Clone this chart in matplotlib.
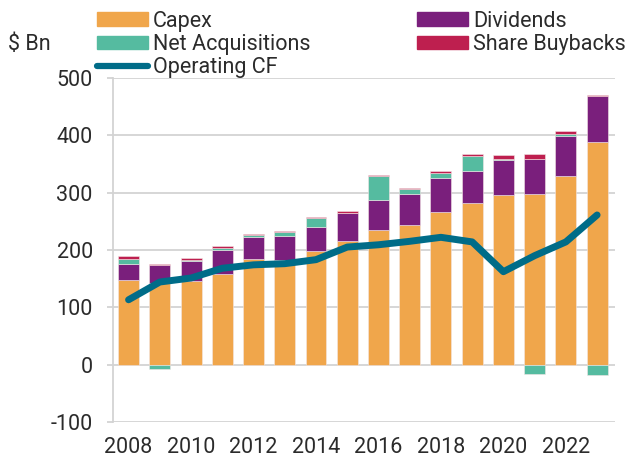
import numpy as np
import matplotlib.pyplot as plt
from matplotlib.lines import Line2D
from matplotlib.patches import Patch

plt.rcParams['font.family'] = ['Roboto', 'DejaVu Sans']
plt.rcParams['axes.unicode_minus'] = False

years = np.arange(2008, 2024)
capex = np.array([147, 143, 145, 158, 184, 183, 198, 216, 234, 244, 266, 282, 296, 297, 329, 388])
dividends = np.array([29, 30, 35, 41, 39, 42, 42, 48, 53, 54, 60, 56, 61, 62, 69, 80])
net_acq = np.array([8.5, -8, 2, 3.5, 3, 6, 16, 1, 42, 9, 8, 26, 1, -16, 3.5, -19])
buybacks = np.array([4.5, 3, 3.5, 3.5, 2, 2.5, 1.5, 3, 2, 1, 3.5, 3.5, 7, 8, 6, 2.5])
operating_cf = np.array([113, 144, 151, 168, 174, 176, 183, 205, 209, 215, 222, 214, 162, 190, 214, 261])

c_capex = '#F0A64B'
c_div = '#7A1F7C'
c_acq = '#55BBA0'
c_buy = '#BE1F4F'
c_cf = '#006C88'
txt = '#2b2b2b'
grid_c = '#d3d3d3'
fs = 15.5

fig = plt.figure(figsize=(6.31, 4.59), dpi=100)
ax = fig.add_axes([0.179, 0.081, 0.796, 0.749])

w = 0.67
ek = dict(width=w, edgecolor='#f3e6e6', linewidth=0.4, zorder=2)
ax.bar(years, capex, color=c_capex, **ek)
ax.bar(years, dividends, bottom=capex, color=c_div, **ek)
top = capex + dividends
acq_bottom = np.where(net_acq >= 0, top, 0)
ax.bar(years, net_acq, bottom=acq_bottom, color=c_acq, **ek)
top = top + np.clip(net_acq, 0, None)
ax.bar(years, buybacks, bottom=top, color=c_buy, **ek)

ax.plot(years, operating_cf, color=c_cf, lw=5, solid_capstyle='round',
        solid_joinstyle='round', zorder=3)

ax.set_ylim(-100, 500)
ax.set_xlim(2007.5, 2023.58)
ax.set_yticks(np.arange(-100, 501, 100))
ax.set_xticks(np.arange(2008, 2023, 2))
ax.yaxis.grid(True, color=grid_c, lw=1.3, zorder=0)
ax.set_axisbelow(True)
for s in ['top', 'right', 'bottom']:
    ax.spines[s].set_visible(False)
ax.spines['left'].set_color(grid_c)
ax.spines['left'].set_linewidth(1.3)
ax.tick_params(axis='y', length=4.5, width=1.3, color=grid_c, labelsize=fs,
               labelcolor=txt, pad=10)
ax.tick_params(axis='x', length=0, labelsize=fs, labelcolor=txt, pad=11)

fig.text(0.013, 0.902, '$ Bn', fontsize=fs, color=txt, va='center')

leg_kw = dict(frameon=False, fontsize=fs, handlelength=2.37, handleheight=0.56,
              handletextpad=0.23, labelspacing=0.1, borderaxespad=0,
              borderpad=0, labelcolor=txt)
h1 = [Patch(color=c_capex), Patch(color=c_acq),
      Line2D([], [], color=c_cf, lw=4.5, solid_capstyle='round')]
fig.legend(h1, ['Capex', 'Net Acquisitions', 'Operating CF'],
           loc='upper left', bbox_to_anchor=(97 / 631, 0.977), **leg_kw)
h2 = [Patch(color=c_div), Patch(color=c_buy)]
fig.legend(h2, ['Dividends', 'Share Buybacks'],
           loc='upper left', bbox_to_anchor=(417 / 631, 0.977), **leg_kw)

fig.savefig('out.png', dpi=100)
